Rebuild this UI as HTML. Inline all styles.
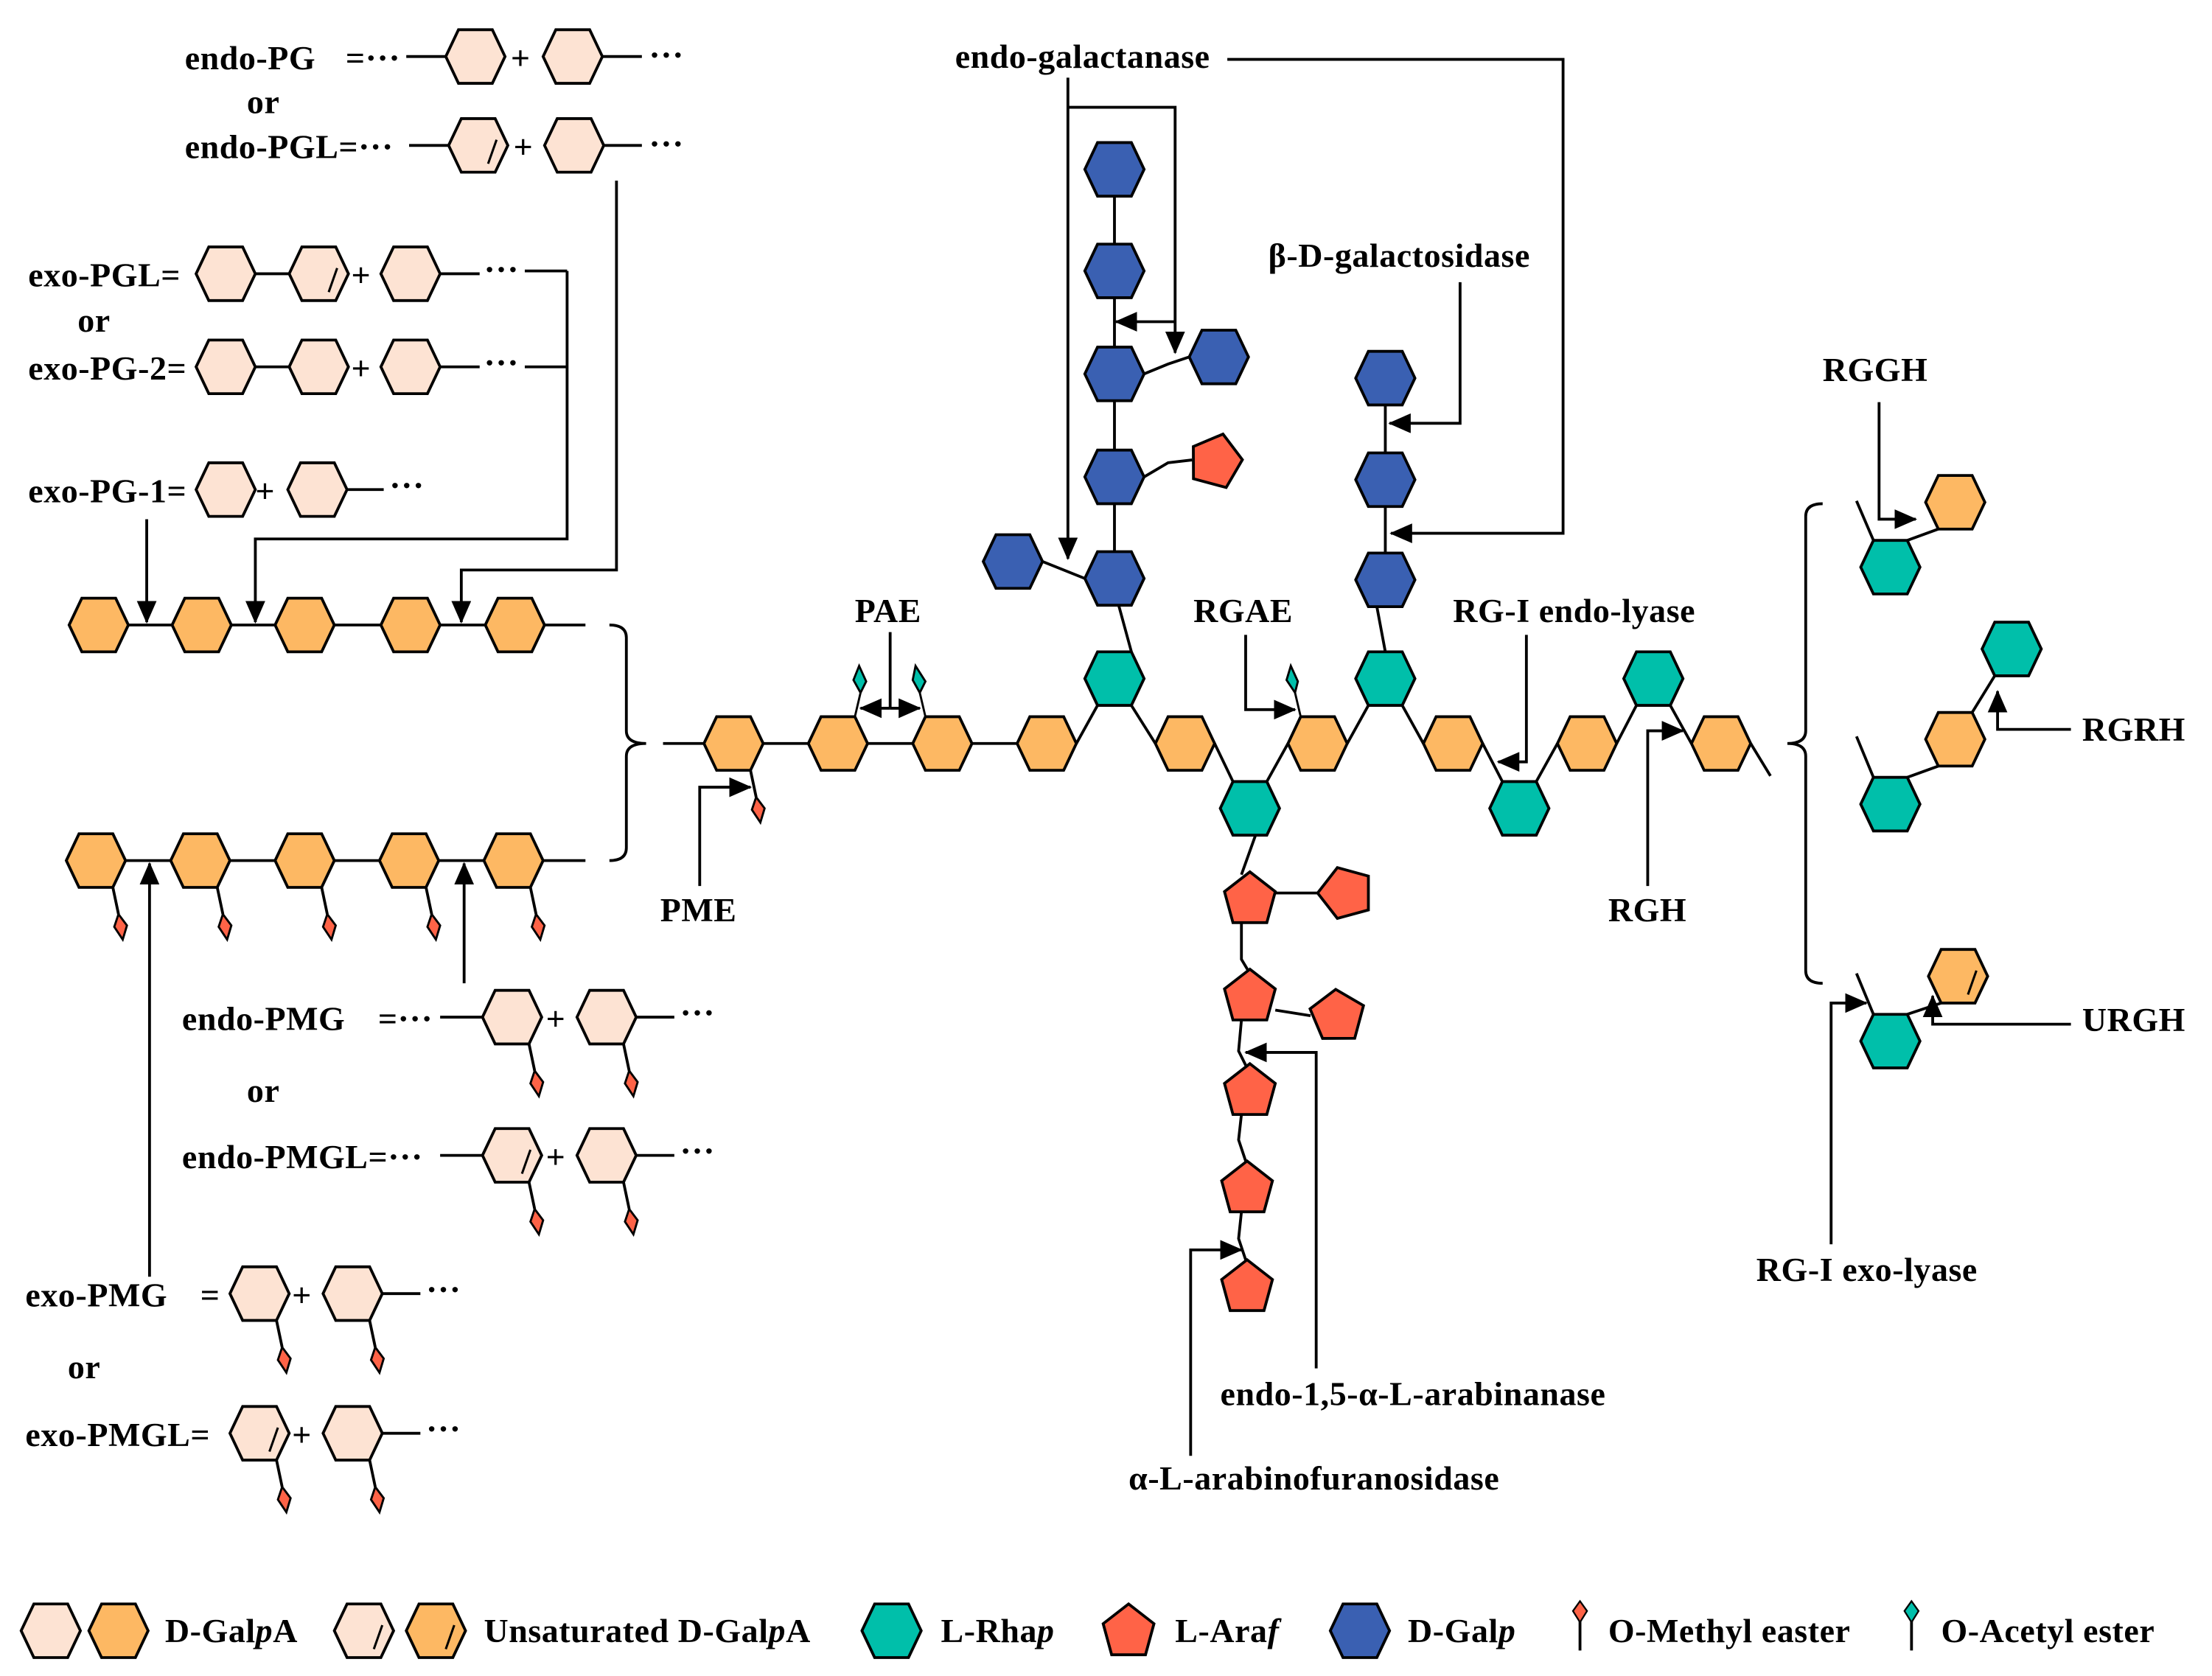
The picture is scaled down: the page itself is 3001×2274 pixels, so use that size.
<!DOCTYPE html>
<html><head><meta charset="utf-8"><style>
html,body{margin:0;padding:0;background:#fff}
svg{display:block}
text{font-family:"Liberation Serif",serif;font-weight:bold;font-size:24px;letter-spacing:0.3px;fill:#000}
</style></head><body>
<svg width="3001" height="2274" viewBox="0 0 1568 1188" xmlns="http://www.w3.org/2000/svg">
<defs>
<marker id="a" markerUnits="userSpaceOnUse" markerWidth="16" markerHeight="14" refX="15" refY="7" orient="auto"><path d="M0,0L16,7L0,14Z" fill="#000"/></marker>
<polygon id="h" points="-21,0 -12,-19 12,-19 21,0 12,19 -12,19" stroke="#000" stroke-width="2"/>
<polygon id="p" points="0,-19 18,-5 12,17 -12,17 -18,-5" stroke="#000" stroke-width="2"/>
<g id="m"><line x1="12" y1="19" x2="16" y2="38" stroke="#000" stroke-width="2"/><polygon points="16,38 22,46 19,56 13,47" fill="#FF6347" stroke="#000" stroke-width="1.5"/></g>
<line id="s" x1="7" y1="13" x2="13" y2="-4" stroke="#000" stroke-width="1.6"/>
</defs>
<g fill="none" stroke="#000" stroke-width="2">
<line x1="70" y1="443" x2="415" y2="443"/>
<line x1="68" y1="610" x2="415" y2="610"/>
<path d="M432,443 Q444,443 444,452 L444,518 Q444,527 458,527 Q444,527 444,536 L444,601 Q444,610 432,610"/>
<line x1="104" y1="368" x2="104" y2="441" marker-end="url(#a)"/>
<polyline points="402,192 402,382 181,382 181,441" marker-end="url(#a)"/>
<line x1="372" y1="192" x2="402" y2="192"/><line x1="372" y1="260" x2="402" y2="260"/>
<polyline points="437,128 437,404 327,404 327,441" marker-end="url(#a)"/>
<line x1="106" y1="905" x2="106" y2="612" marker-end="url(#a)"/>
<line x1="329" y1="697" x2="329" y2="612" marker-end="url(#a)"/>
<line x1="470" y1="527" x2="742" y2="527"/>
<polyline points="763,527 778,500"/><polyline points="802,500 819,527"/>
<polyline points="861,527 874,554"/><polyline points="898,554 913,527"/>
<polyline points="955,527 970,500"/><polyline points="994,500 1009,527"/>
<polyline points="1051,527 1065,554"/><polyline points="1089,554 1104,527"/>
<polyline points="1146,527 1160,500"/><polyline points="1184,500 1199,527"/>
<polyline points="1241,527 1255,550"/>
<line x1="802" y1="462" x2="793" y2="429"/>
<line x1="790" y1="120" x2="790" y2="410"/>
<line x1="739" y1="398" x2="769" y2="410"/>
<polyline points="811,265 828,258 843,253"/>
<polyline points="811,338 828,328 845,326"/>
<line x1="982" y1="268" x2="982" y2="411"/><line x1="976" y1="430" x2="982" y2="462"/>
<polyline points="890,592 880,620"/>
<line x1="904" y1="633" x2="935" y2="633"/>
<polyline points="880,654 880,680 886,690"/>
<line x1="904" y1="716" x2="929" y2="720"/>
<polyline points="880,723 878,745 884,757"/>
<polyline points="880,790 878,808 884,826"/>
<polyline points="880,859 878,878 884,896"/>
<line x1="631" y1="448" x2="631" y2="502"/>
<line x1="631" y1="502" x2="652" y2="502" marker-end="url(#a)"/>
<line x1="631" y1="502" x2="610" y2="502" marker-end="url(#a)"/>
<polyline points="883,450 883,503 918,503" marker-end="url(#a)"/>
<polyline points="496,628 496,558 532,558" marker-end="url(#a)"/>
<polyline points="870,42 1108,42 1108,378 986,378" marker-end="url(#a)"/>
<line x1="757" y1="55" x2="757" y2="396" marker-end="url(#a)"/>
<polyline points="757,76 833,76 833,250" marker-end="url(#a)"/>
<line x1="833" y1="228" x2="791" y2="228" marker-end="url(#a)"/>
<polyline points="1035,200 1035,300 985,300" marker-end="url(#a)"/>
<polyline points="1082,450 1082,540 1062,540" marker-end="url(#a)"/>
<polyline points="1168,628 1168,518 1193,518" marker-end="url(#a)"/>
<polyline points="933,970 933,746 883,746" marker-end="url(#a)"/>
<polyline points="844,1032 844,886 880,886" marker-end="url(#a)"/>
<path d="M1292,357 Q1280,357 1280,366 L1280,518 Q1280,527 1267,527 Q1280,527 1280,536 L1280,688 Q1280,697 1292,697"/>
<line x1="1316" y1="355" x2="1328" y2="383"/><line x1="1352" y1="383" x2="1374" y2="375"/>
<line x1="1316" y1="522" x2="1328" y2="551"/><line x1="1352" y1="551" x2="1374" y2="543"/><line x1="1398" y1="505" x2="1414" y2="479"/>
<line x1="1316" y1="690" x2="1328" y2="719"/><line x1="1352" y1="719" x2="1376" y2="711"/>
<polyline points="1332,285 1332,368 1358,368" marker-end="url(#a)"/>
<polyline points="1468,517 1416,517 1416,490" marker-end="url(#a)"/>
<polyline points="1468,726 1370,726 1370,706" marker-end="url(#a)"/>
<polyline points="1298,882 1298,711 1323,711" marker-end="url(#a)"/>
<!-- formula lines -->
<line x1="288" y1="40" x2="316" y2="40"/><line x1="427" y1="40" x2="455" y2="40"/>
<line x1="290" y1="103" x2="318" y2="103"/><line x1="428" y1="103" x2="455" y2="103"/>
<line x1="181" y1="194" x2="205" y2="194"/><line x1="312" y1="194" x2="340" y2="194"/>
<line x1="181" y1="260" x2="205" y2="260"/><line x1="312" y1="260" x2="340" y2="260"/>
<line x1="246" y1="347" x2="272" y2="347"/>
<line x1="312" y1="721" x2="342" y2="721"/><line x1="451" y1="721" x2="478" y2="721"/>
<line x1="312" y1="819" x2="342" y2="819"/><line x1="451" y1="819" x2="478" y2="819"/>
<line x1="271" y1="917" x2="298" y2="917"/><line x1="271" y1="1016" x2="298" y2="1016"/>
<line x1="1120" y1="1143" x2="1120" y2="1170"/>
<line x1="1355" y1="1143" x2="1355" y2="1170"/>
</g>
<g fill="#FDB863">
<use href="#h" x="70" y="443"/><use href="#h" x="143" y="443"/><use href="#h" x="216" y="443"/><use href="#h" x="291" y="443"/><use href="#h" x="365" y="443"/>
<use href="#h" x="68" y="610"/><use href="#h" x="142" y="610"/><use href="#h" x="216" y="610"/><use href="#h" x="290" y="610"/><use href="#h" x="364" y="610"/>
</g>
<use href="#m" x="68" y="610"/><use href="#m" x="142" y="610"/><use href="#m" x="216" y="610"/><use href="#m" x="290" y="610"/><use href="#m" x="364" y="610"/>
<g fill="#FDB863">
<use href="#h" x="520" y="527"/><use href="#h" x="594" y="527"/><use href="#h" x="668" y="527"/><use href="#h" x="742" y="527"/><use href="#h" x="840" y="527"/><use href="#h" x="934" y="527"/><use href="#h" x="1030" y="527"/><use href="#h" x="1125" y="527"/><use href="#h" x="1220" y="527"/>
</g>
<use href="#m" x="520" y="527"/>
<g fill="#00BFAA">
<use href="#h" x="790" y="481"/><use href="#h" x="886" y="573"/><use href="#h" x="982" y="481"/><use href="#h" x="1077" y="573"/><use href="#h" x="1172" y="481"/>
</g>
<g stroke="#000" stroke-width="1.5">
<line x1="606" y1="508" x2="610" y2="491"/><polygon points="610,491 605,482 609,472 614,483" fill="#00BFAA"/>
<line x1="656" y1="508" x2="652" y2="491"/><polygon points="652,491 647,482 649,472 656,483" fill="#00BFAA"/>
<line x1="922" y1="508" x2="918" y2="491"/><polygon points="918,491 912,482 915,472 920,483" fill="#00BFAA"/>
</g>
<g fill="#3A60B2">
<use href="#h" x="790" y="120"/><use href="#h" x="790" y="192"/><use href="#h" x="790" y="265"/><use href="#h" x="790" y="338"/><use href="#h" x="790" y="410"/>
<use href="#h" x="718" y="398"/><use href="#h" x="864" y="253"/>
<use href="#h" x="982" y="268"/><use href="#h" x="982" y="340"/><use href="#h" x="982" y="411"/>
</g>
<g fill="#FF6347">
<use href="#p" x="862" y="326" transform="rotate(15 862 326)"/>
<use href="#p" x="886" y="637"/><use href="#p" x="953" y="633" transform="rotate(-90 953 633)"/>
<use href="#p" x="886" y="706"/><use href="#p" x="947" y="720" transform="rotate(-75 947 720)"/>
<use href="#p" x="886" y="773"/><use href="#p" x="884" y="842"/><use href="#p" x="884" y="912"/>
</g>
<g fill="#00BFAA"><use href="#h" x="1340" y="402"/><use href="#h" x="1340" y="570"/><use href="#h" x="1426" y="460"/><use href="#h" x="1340" y="738"/></g>
<g fill="#FDB863"><use href="#h" x="1386" y="356"/><use href="#h" x="1386" y="524"/><use href="#h" x="1388" y="692"/></g>
<use href="#s" x="1388" y="692"/>
<g fill="#FDE3D3">
<use href="#h" x="337" y="40"/><use href="#h" x="406" y="40"/>
<use href="#h" x="339" y="103"/><use href="#h" x="407" y="103"/>
<use href="#h" x="160" y="194"/><use href="#h" x="226" y="194"/><use href="#h" x="291" y="194"/>
<use href="#h" x="160" y="260"/><use href="#h" x="226" y="260"/><use href="#h" x="291" y="260"/>
<use href="#h" x="160" y="347"/><use href="#h" x="225" y="347"/>
<use href="#h" x="363" y="721"/><use href="#h" x="430" y="721"/>
<use href="#h" x="363" y="819"/><use href="#h" x="430" y="819"/>
<use href="#h" x="184" y="917"/><use href="#h" x="250" y="917"/>
<use href="#h" x="184" y="1016"/><use href="#h" x="250" y="1016"/>
</g>
<use href="#s" x="339" y="103"/><use href="#s" x="226" y="194"/><use href="#s" x="363" y="819"/><use href="#s" x="184" y="1016"/>
<use href="#m" x="363" y="721"/><use href="#m" x="430" y="721"/><use href="#m" x="363" y="819"/><use href="#m" x="430" y="819"/>
<use href="#m" x="184" y="917"/><use href="#m" x="250" y="917"/><use href="#m" x="184" y="1016"/><use href="#m" x="250" y="1016"/>
<g fill="#FDE3D3"><use href="#h" x="36" y="1156"/><use href="#h" x="258" y="1156"/></g>
<g fill="#FDB863"><use href="#h" x="84" y="1156"/><use href="#h" x="309" y="1156"/></g>
<use href="#s" x="258" y="1156"/><use href="#s" x="309" y="1156"/>
<use href="#h" x="632" y="1156" fill="#00BFAA"/>
<use href="#p" x="800" y="1156" fill="#FF6347"/>
<use href="#h" x="964" y="1156" fill="#3A60B2"/>
<polygon points="1120,1135 1115,1142 1120,1150 1125,1142" fill="#FF6347" stroke="#000" stroke-width="1.2"/>
<polygon points="1355,1135 1350,1142 1355,1150 1360,1142" fill="#00BFAA" stroke="#000" stroke-width="1.2"/>
<text x="131" y="49">endo-PG</text><text x="245" y="49">=···</text>
<text x="175" y="80">or</text>
<text x="131" y="112">endo-PGL=···</text>
<text x="460" y="47">···</text><text x="460" y="110">···</text>
<text x="362" y="49">+</text><text x="364" y="112">+</text>
<text x="20" y="203">exo-PGL=</text><text x="249" y="203">+</text><text x="343" y="199">···</text>
<text x="55" y="235">or</text>
<text x="20" y="269">exo-PG-2=</text><text x="249" y="269">+</text><text x="343" y="265">···</text>
<text x="20" y="356">exo-PG-1=</text><text x="181" y="356">+</text><text x="276" y="352">···</text>
<text x="129" y="730">endo-PMG</text><text x="268" y="730">=···</text><text x="387" y="730">+</text><text x="482" y="726">···</text>
<text x="175" y="781">or</text>
<text x="129" y="828">endo-PMGL=···</text><text x="387" y="828">+</text><text x="482" y="824">···</text>
<text x="18" y="926">exo-PMG</text><text x="142" y="926">=</text><text x="207" y="926">+</text><text x="302" y="922">···</text>
<text x="48" y="977">or</text>
<text x="18" y="1025">exo-PMGL=</text><text x="207" y="1025">+</text><text x="302" y="1021">···</text>
<text x="677" y="48">endo-galactanase</text>
<text x="899" y="189">β-D-galactosidase</text>
<text x="606" y="441">PAE</text>
<text x="846" y="441">RGAE</text>
<text x="1030" y="441">RG-I endo-lyase</text>
<text x="468" y="653">PME</text>
<text x="1140" y="653">RGH</text>
<text x="1292" y="270">RGGH</text>
<text x="1476" y="525">RGRH</text>
<text x="1476" y="731">URGH</text>
<text x="1245" y="908">RG-I exo-lyase</text>
<text x="865" y="996">endo-1,5-α-L-arabinanase</text>
<text x="800" y="1056">α-L-arabinofuranosidase</text>
<text x="117" y="1164">D-Gal<tspan font-style="italic">p</tspan>A</text>
<text x="343" y="1164">Unsaturated D-Gal<tspan font-style="italic">p</tspan>A</text>
<text x="667" y="1164">L-Rha<tspan font-style="italic">p</tspan></text>
<text x="833" y="1164">L-Ara<tspan font-style="italic">f</tspan></text>
<text x="998" y="1164">D-Gal<tspan font-style="italic">p</tspan></text>
<text x="1140" y="1164">O-Methyl easter</text>
<text x="1376" y="1164">O-Acetyl ester</text>
</svg>
</body></html>
